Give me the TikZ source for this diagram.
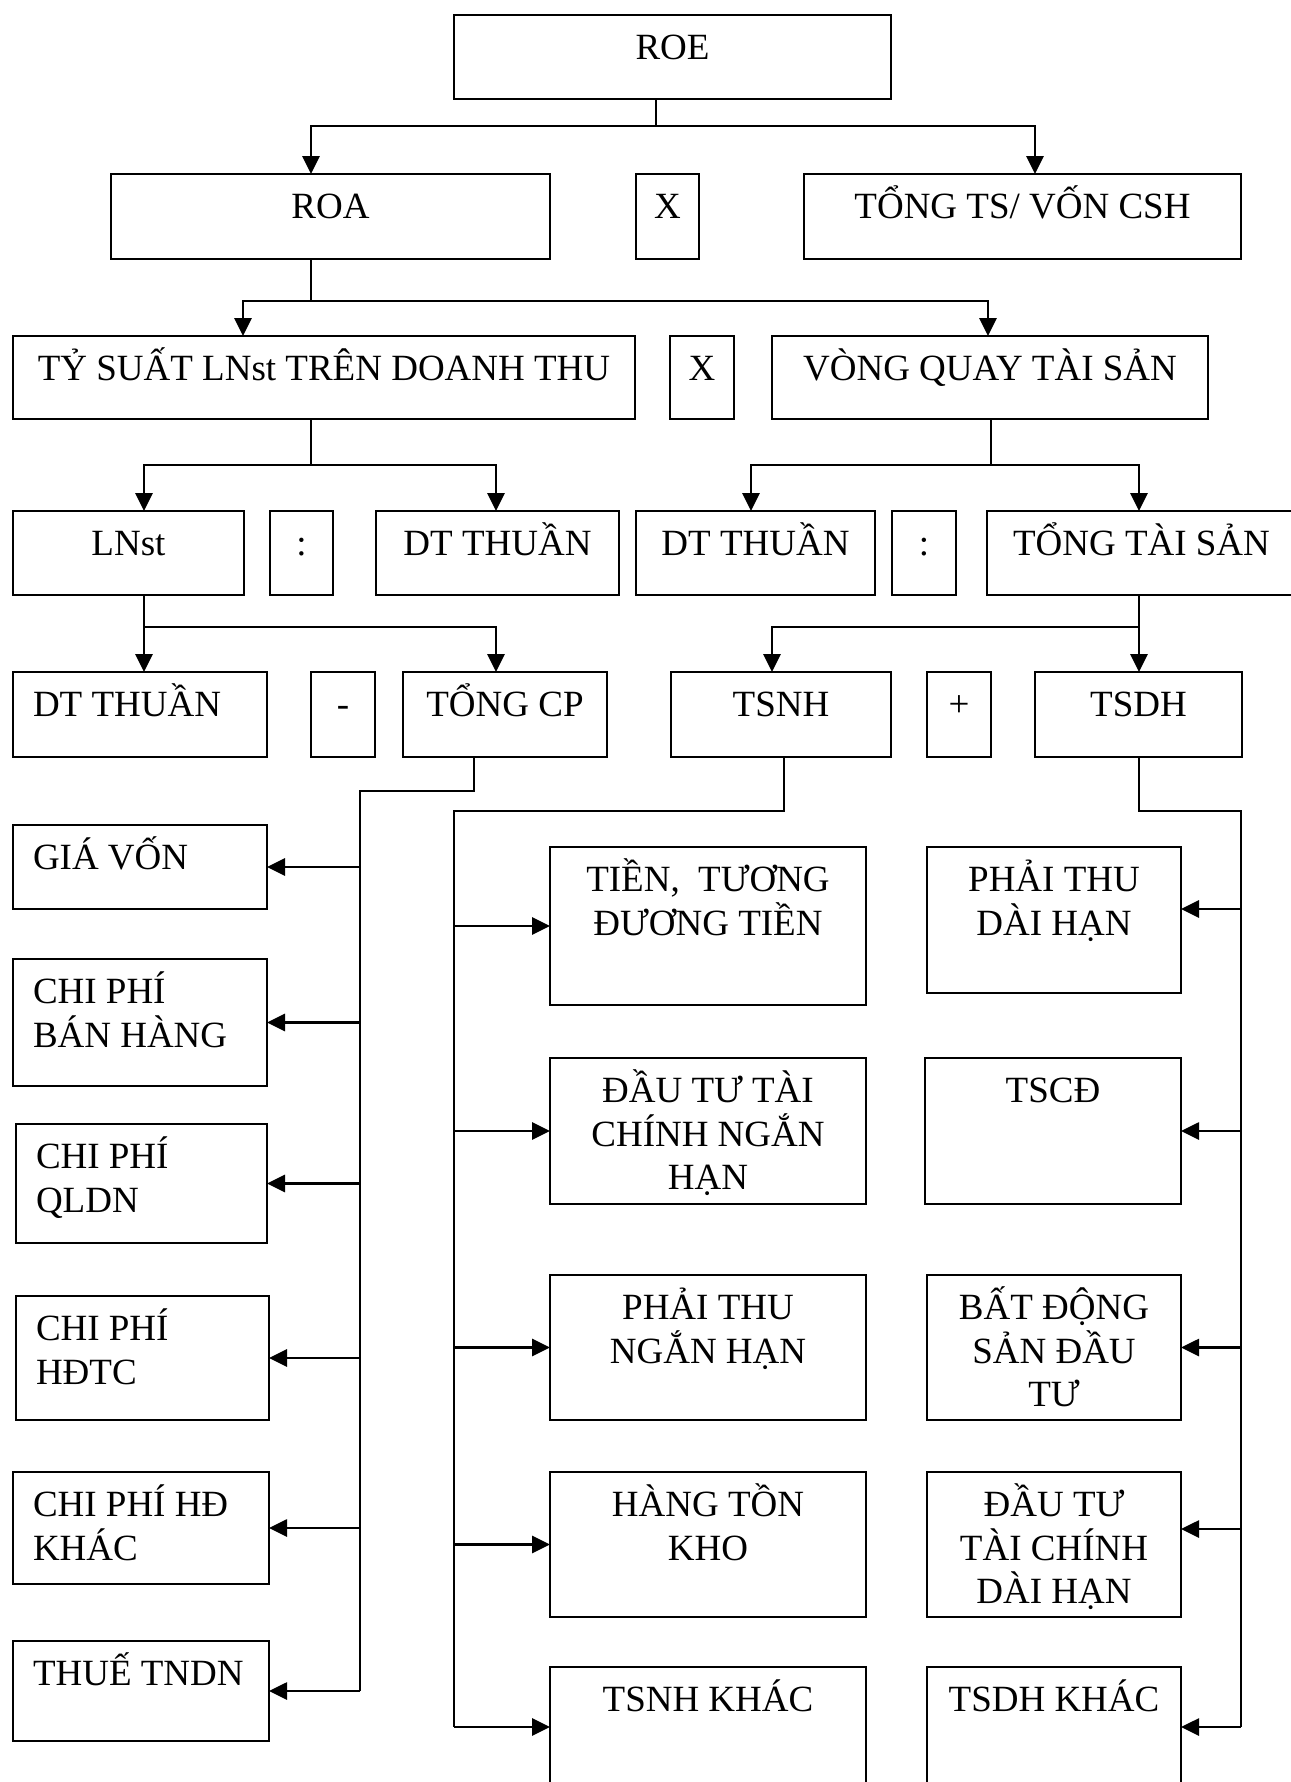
\documentclass[tikz,border=0pt]{standalone}
\usepackage{fontspec}
\setmainfont{Liberation Serif}
\usetikzlibrary{arrows.meta}
\newlength\pxu
\setlength\pxu{0.5pt}
\tikzset{
  box/.style 2 args={draw,line width=1pt,inner sep=0pt,outer sep=0pt,anchor=north west,font=\fontsize{18.5}{21.75}\selectfont,
    execute at begin node={\begin{minipage}[c][#2\pxu][t]{#1\pxu}\centering\rule{0pt}{22.25pt}},
    execute at end node={\end{minipage}}},
  lbox/.style 2 args={draw,line width=1pt,inner sep=0pt,outer sep=0pt,anchor=north west,font=\fontsize{18.5}{21.75}\selectfont,
    execute at begin node={\begin{minipage}[c][#2\pxu][t]{#1\pxu}\raggedright\leftskip=10pt\relax\rule{0pt}{22.25pt}},
    execute at end node={\end{minipage}}},
  stem/.style={line width=1pt},
  arr/.style={line width=1.4pt,-{Triangle[length=9pt,width=8.5pt]}}
}
\begin{document}
\begin{tikzpicture}[x=.5pt,y=-.5pt]
\path[use as bounding box] (0,0) rectangle (1290,1782);
\node[box={437}{84}] (roe) at (454,15) {ROE};
\node[box={439}{85}] (roa) at (111,174) {ROA};
\node[box={63}{85}] (x1) at (636,174) {X};
\node[box={437}{85}] (tongtsvon) at (804,174) {TỔNG TS/ VỐN CSH};
\node[box={622}{83}] (tysuat) at (13,336) {TỶ SUẤT LNst TRÊN DOANH THU};
\node[box={64}{83}] (x2) at (670,336) {X};
\node[box={436}{83}] (vongquay) at (772,336) {VÒNG QUAY TÀI SẢN};
\node[box={231}{84}] (lnst) at (13,511) {LNst};
\node[box={63}{84}] (div1) at (270,511) {:};
\node[box={243}{84}] (dtthuan1) at (376,511) {DT THUẦN};
\node[box={239}{84}] (dtthuan2) at (636,511) {DT THUẦN};
\node[box={64}{84}] (div2) at (892,511) {:};
\node[box={309}{84}] (tongtaisan) at (987,511) {TỔNG TÀI SẢN};
\node[lbox={254}{85}] (dtthuan3) at (13,672) {DT THUẦN};
\node[box={64}{85}] (minus) at (311,672) {-};
\node[box={204}{85}] (tongcp) at (403,672) {TỔNG CP};
\node[box={220}{85}] (tsnh) at (671,672) {TSNH};
\node[box={64}{85}] (plus) at (927,672) {+};
\node[box={207}{85}] (tsdh) at (1035,672) {TSDH};
\node[lbox={254}{84}] (giavon) at (13,825) {GIÁ VỐN};
\node[lbox={254}{127}] (cpbh) at (13,959) {CHI PHÍ\\BÁN HÀNG};
\node[lbox={251}{119}] (cpql) at (16,1124) {CHI PHÍ\\QLDN};
\node[lbox={253}{124}] (cphdtc) at (16,1296) {CHI PHÍ\\HĐTC};
\node[lbox={256}{112}] (cphdk) at (13,1472) {CHI PHÍ HĐ\\KHÁC};
\node[lbox={256}{100}] (thue) at (13,1641) {THUẾ TNDN};
\node[box={316}{158}] (tien) at (550,847) {TIỀN,~ TƯƠNG\\ĐƯƠNG TIỀN};
\node[box={316}{146}] (dtnh) at (550,1058) {ĐẦU TƯ TÀI\\CHÍNH NGẮN\\HẠN};
\node[box={316}{145}] (ptnh) at (550,1275) {PHẢI THU\\NGẮN HẠN};
\node[box={316}{145}] (htk) at (550,1472) {HÀNG TỒN\\KHO};
\node[box={316}{120}] (tsnhk) at (550,1667) {TSNH KHÁC};
\node[box={254}{146}] (ptdh) at (927,847) {PHẢI THU\\DÀI HẠN};
\node[box={256}{146}] (tscd) at (925,1058) {TSCĐ};
\node[box={254}{145}] (bds) at (927,1275) {BẤT ĐỘNG\\SẢN ĐẦU\\TƯ};
\node[box={254}{145}] (dttcdh) at (927,1472) {ĐẦU TƯ\\TÀI CHÍNH\\DÀI HẠN};
\node[box={254}{120}] (tsdhk) at (927,1667) {TSDH KHÁC};
\coordinate (a) at (656,126);
\draw[stem] (roe.south -| a) -- (a);
\draw[arr] (a) -| (roa.north -| 311,0);
\draw[arr] (a) -| (tongtsvon.north -| 1035,0);
\coordinate (b) at (311,301);
\draw[stem] (roa.south -| b) -- (b);
\draw[arr] (b) -| (tysuat.north -| 243,0);
\draw[arr] (b) -| (vongquay.north -| 988,0);
\coordinate (c) at (311,465);
\draw[stem] (tysuat.south -| c) -- (c);
\draw[arr] (c) -| (lnst.north -| 144,0);
\draw[arr] (c) -| (dtthuan1.north -| 496,0);
\coordinate (d) at (991,465);
\draw[stem] (vongquay.south -| d) -- (d);
\draw[arr] (d) -| (dtthuan2.north -| 751,0);
\draw[arr] (d) -| (tongtaisan.north -| 1139,0);
\coordinate (e) at (144,627);
\draw[stem] (lnst.south -| e) -- (e);
\draw[arr] (e) -- (dtthuan3.north -| e);
\draw[arr] (e) -| (tongcp.north -| 496,0);
\coordinate (f) at (1139,627);
\draw[stem] (tongtaisan.south -| f) -- (f);
\draw[arr] (f) -| (tsnh.north -| 772,0);
\draw[arr] (f) -- (tsdh.north -| f);
\coordinate (g) at (360,791);
\draw[stem] (tongcp.south -| 474,0) |- (g) -- (g |- thue.east);
\draw[arr] (g |- giavon.east) -- (giavon.east);
\draw[arr] (g |- cpbh.east) -- (cpbh.east);
\draw[arr] (g |- cpql.east) -- (cpql.east);
\draw[arr] (g |- cphdtc.east) -- (cphdtc.east);
\draw[arr] (g |- cphdk.east) -- (cphdk.east);
\draw[arr] (g |- thue.east) -- (thue.east);
\coordinate (h) at (454,811);
\draw[stem] (tsnh.south -| 784,0) |- (h) -- (h |- tsnhk.west);
\draw[arr] (h |- tien.west) -- (tien.west);
\draw[arr] (h |- dtnh.west) -- (dtnh.west);
\draw[arr] (h |- ptnh.west) -- (ptnh.west);
\draw[arr] (h |- htk.west) -- (htk.west);
\draw[arr] (h |- tsnhk.west) -- (tsnhk.west);
\coordinate (i) at (1241,811);
\draw[stem] (tsdh.south) |- (i) -- (i |- tsdhk.east);
\draw[arr] (i |- 0,909) -- (ptdh.east |- 0,909);
\draw[arr] (i |- tscd.east) -- (tscd.east);
\draw[arr] (i |- bds.east) -- (bds.east);
\draw[arr] (i |- 0,1529) -- (dttcdh.east |- 0,1529);
\draw[arr] (i |- tsdhk.east) -- (tsdhk.east);
\end{tikzpicture}
\end{document}
